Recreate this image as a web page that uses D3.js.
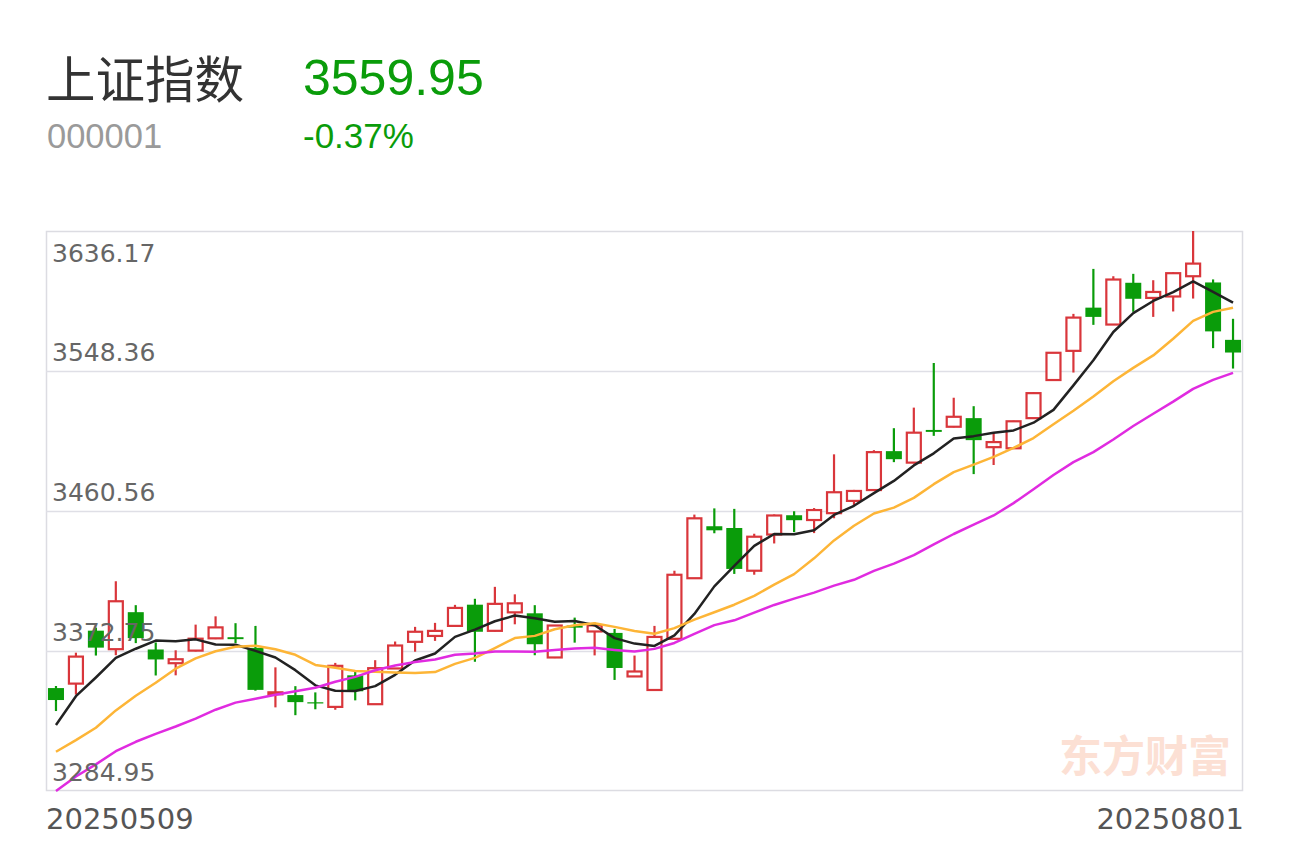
<!DOCTYPE html>
<html>
<head>
<meta charset="utf-8">
<title>上证指数</title>
<script src="https://cdn.jsdelivr.net/npm/d3@7"></script>
<style>
  body { margin: 0; background: #fff; }
  svg { display: block; }
</style>
</head>
<body>
<div id="chart"></div>
<script>

// Daily candles, 20250509 - 20250801
var dates = ["20250509","20250512","20250513","20250514","20250515","20250516",
  "20250519","20250520","20250521","20250522","20250523",
  "20250526","20250527","20250528","20250529","20250530",
  "20250603","20250604","20250605","20250606",
  "20250609","20250610","20250611","20250612","20250613",
  "20250616","20250617","20250618","20250619","20250620",
  "20250623","20250624","20250625","20250626","20250627",
  "20250630","20250701","20250702","20250703","20250704",
  "20250707","20250708","20250709","20250710","20250711",
  "20250714","20250715","20250716","20250717","20250718",
  "20250721","20250722","20250723","20250724","20250725",
  "20250728","20250729","20250730","20250731","20250801"];

var opens = [3349.5,3352.3,3385.5,3373.9,3397.1,3373.7,3365.1,3373.0,3380.7,3381.4,
  3374.7,3345.6,3345.1,3340.6,3337.7,3357.5,3339.4,3361.8,3378.5,3382.2,
  3388.5,3401.8,3385.4,3397.0,3396.4,3368.7,3388.7,3385.0,3384.1,3356.8,
  3348.3,3380.4,3418.4,3451.0,3449.9,3423.1,3445.8,3457.9,3454.9,3459.2,
  3466.9,3473.7,3498.1,3490.9,3511.4,3513.4,3518.8,3500.6,3499.9,3518.8,
  3542.7,3561.0,3588.1,3577.5,3603.7,3594.2,3595.1,3607.8,3603.9,3567.9];

var highs = [3350.8,3371.7,3387.4,3416.5,3401.5,3378.1,3373.2,3389.3,3394.5,3390.2,
  3388.5,3362.5,3350.7,3346.8,3365.3,3360.0,3367.0,3378.7,3387.9,3390.4,
  3401.7,3405.5,3413.0,3408.3,3401.5,3389.0,3393.7,3390.7,3386.6,3369.9,
  3388.5,3423.1,3458.3,3462.2,3461.9,3446.3,3458.4,3460.4,3462.4,3496.1,
  3473.8,3498.7,3512.5,3525.4,3553.4,3531.6,3526.3,3510.1,3517.2,3535.1,
  3560.2,3584.2,3612.4,3607.8,3609.3,3605.3,3610.3,3636.17,3605.8,3581.1];

var lows = [3335.1,3345.4,3369.9,3370.1,3377.7,3357.4,3357.5,3372.5,3380.2,3377.7,
  3347.9,3337.4,3332.5,3336.2,3335.9,3341.8,3339.0,3361.5,3372.3,3379.1,
  3388.2,3366.0,3385.0,3389.5,3370.1,3368.3,3378.0,3370.0,3354.6,3356.5,
  3347.8,3380.0,3418.0,3446.6,3421.1,3420.6,3440.2,3447.3,3446.7,3456.0,
  3463.7,3473.3,3491.2,3490.5,3507.7,3513.0,3483.7,3489.4,3499.5,3518.5,
  3542.3,3547.4,3577.3,3577.2,3585.5,3582.3,3585.7,3593.8,3562.7,3549.9];

var closes = [3342.00,3369.24,3374.87,3403.95,3380.82,3367.46,3367.58,3380.48,3387.57,3380.19,
  3348.37,3346.84,3340.69,3339.93,3363.45,3347.49,3361.98,3376.20,3384.82,3385.36,
  3399.77,3384.82,3402.32,3402.66,3377.00,3388.73,3387.40,3388.81,3362.11,3359.90,
  3381.58,3420.57,3455.97,3448.45,3424.23,3444.43,3457.75,3454.79,3461.15,3472.32,
  3473.13,3497.48,3493.05,3509.68,3510.18,3519.65,3505.00,3503.78,3516.83,3534.48,
  3559.79,3581.86,3582.30,3605.73,3593.66,3597.94,3609.71,3615.72,3573.21,3559.95];

// closes before the window (20250409 - 20250508), needed for the moving averages
var priorCloses = [3186.81,3223.64,3238.23,3262.81,3267.66,3276.00,3280.34,3276.73,
  3291.43,3299.76,3296.36,3297.29,3295.06,3288.41,3286.65,3279.03,3316.11,3342.67,3352.00];

var yTicks = [3636.17, 3548.36, 3460.56, 3372.75, 3284.95];

var indexName = "上证指数";
var indexCode = "000001";
var watermark = "东方财富";

var maPeriods = [5, 10, 20];
var maColors = ["#222222", "#fdb537", "#e02be0"];

var upColor = "#d9363b";
var downColor = "#0a9c0a";

var width = 1290, height = 843;
var plot = {left: 46, right: 1243, top: 231, bottom: 791};

var svg = d3.select("#chart").append("svg")
  .attr("width", width)
  .attr("height", height);

// Header: name, code, last price and change
var last = closes[closes.length - 1];
var prev = closes[closes.length - 2];
var pct = (last / prev - 1) * 100;

svg.append("text")
  .attr("x", 46).attr("y", 98)
  .attr("font-family", "'Noto Sans CJK SC', sans-serif")
  .attr("font-size", 49.5)
  .attr("fill", "#333")
  .text(indexName);

svg.append("text")
  .attr("x", 47).attr("y", 148)
  .attr("font-family", "'Liberation Sans', Arial, sans-serif")
  .attr("font-size", 34.5)
  .attr("fill", "#9a9a9a")
  .text(indexCode);

svg.append("text")
  .attr("x", 303).attr("y", 95)
  .attr("font-family", "'Liberation Sans', Arial, sans-serif")
  .attr("font-size", 50)
  .attr("fill", pct < 0 ? downColor : upColor)
  .text(last.toFixed(2));

svg.append("text")
  .attr("x", 303).attr("y", 148)
  .attr("font-family", "'Liberation Sans', Arial, sans-serif")
  .attr("font-size", 35)
  .attr("fill", pct < 0 ? downColor : upColor)
  .text((pct > 0 ? "+" : "") + pct.toFixed(2) + "%");

// Scales
var x = d3.scaleBand()
  .domain(d3.range(dates.length))
  .range([plot.left, plot.right])
  .padding(0);

var y = d3.scaleLinear()
  .domain(d3.extent(yTicks))
  .range([plot.bottom, plot.top]);

var cx = function(i) { return x(i) + x.bandwidth() / 2; };

// Frame and grid lines
svg.append("rect")
  .attr("x", plot.left + 0.5).attr("y", plot.top + 0.5)
  .attr("width", plot.right - plot.left - 1)
  .attr("height", plot.bottom - plot.top - 1)
  .attr("fill", "none")
  .attr("stroke", "#dcdce2")
  .attr("stroke-width", 1.5);

svg.selectAll(".grid")
  .data(yTicks.slice(1, -1))
  .enter().append("line")
  .attr("class", "grid")
  .attr("x1", plot.left).attr("x2", plot.right)
  .attr("y1", function(d) { return Math.round(y(d)) + 0.5; })
  .attr("y2", function(d) { return Math.round(y(d)) + 0.5; })
  .attr("stroke", "#dfdfe6")
  .attr("stroke-width", 1.5);

// Watermark
svg.append("text")
  .attr("x", 1231).attr("y", 772)
  .attr("text-anchor", "end")
  .attr("font-family", "'Noto Sans CJK SC', sans-serif")
  .attr("font-weight", 700)
  .attr("font-size", 43)
  .attr("fill", "#fce0d4")
  .text(watermark);

// Candles
var candles = dates.map(function(d, i) {
  return {i: i, o: opens[i], h: highs[i], l: lows[i], c: closes[i]};
});

var g = svg.append("g").attr("class", "candles");

var item = g.selectAll("g")
  .data(candles)
  .enter().append("g");

item.append("line")
  .attr("x1", function(d) { return cx(d.i); })
  .attr("x2", function(d) { return cx(d.i); })
  .attr("y1", function(d) { return y(d.h); })
  .attr("y2", function(d) { return y(d.l); })
  .attr("stroke", function(d) { return d.c >= d.o ? upColor : downColor; })
  .attr("stroke-width", 2.2);

item.append("rect")
  .attr("x", function(d) { return cx(d.i) - (d.c >= d.o ? 7 : 8); })
  .attr("width", function(d) { return d.c >= d.o ? 14 : 16; })
  .attr("y", function(d) { return y(Math.max(d.o, d.c)); })
  .attr("height", function(d) { return Math.max(1.2, Math.abs(y(d.o) - y(d.c))); })
  .attr("fill", function(d) { return d.c >= d.o ? "#fff" : downColor; })
  .attr("stroke", function(d) { return d.c >= d.o ? upColor : "none"; })
  .attr("stroke-width", 2.2);

// Moving averages of the closes (MA5, MA10, MA20)
var allCloses = priorCloses.concat(closes);
var offset = priorCloses.length;

maPeriods.forEach(function(n, k) {
  var ma = closes.map(function(c, i) {
    return d3.mean(allCloses.slice(offset + i - n + 1, offset + i + 1));
  });
  var line = d3.line()
    .x(function(d, i) { return cx(i); })
    .y(function(d) { return y(d); });
  svg.append("path")
    .datum(ma)
    .attr("d", line)
    .attr("fill", "none")
    .attr("stroke", maColors[k])
    .attr("stroke-width", 2.5)
    .attr("stroke-linejoin", "round");
});

// Y labels, inside the plot
svg.selectAll(".ylab")
  .data(yTicks)
  .enter().append("text")
  .attr("class", "ylab")
  .attr("x", 52)
  .attr("y", function(d, i) { return i == 0 ? y(d) + 31 : y(d) - 10; })
  .attr("font-family", "'DejaVu Sans', sans-serif")
  .attr("font-size", 25)
  .attr("fill", "#666")
  .text(function(d) { return d.toFixed(2); });

// First and last date
svg.append("text")
  .attr("x", plot.left).attr("y", 829)
  .attr("font-family", "'DejaVu Sans', sans-serif")
  .attr("font-size", 29)
  .attr("fill", "#555")
  .text(dates[0]);

svg.append("text")
  .attr("x", plot.right + 1).attr("y", 829)
  .attr("text-anchor", "end")
  .attr("font-family", "'DejaVu Sans', sans-serif")
  .attr("font-size", 29)
  .attr("fill", "#555")
  .text(dates[dates.length - 1]);

</script>
</body>
</html>
